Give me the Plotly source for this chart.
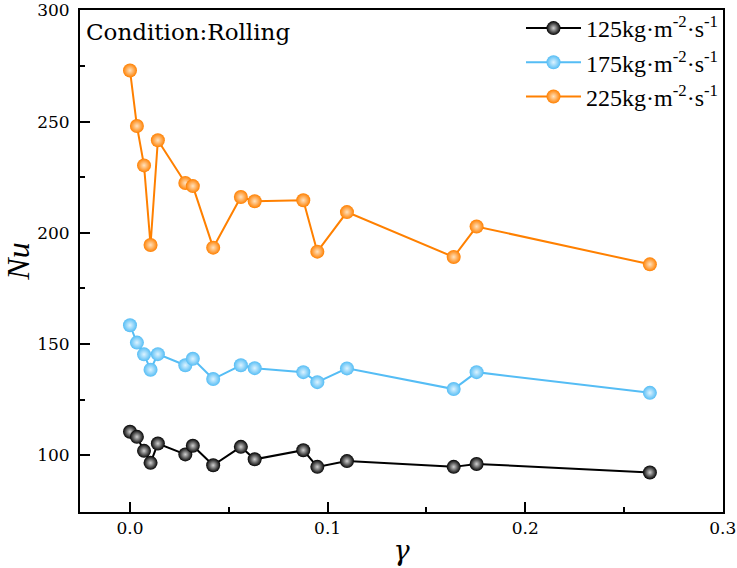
import plotly.graph_objects as go

gamma = [0.0, 0.0035, 0.0071, 0.0104, 0.0141, 0.0280, 0.0318, 0.0421,
         0.0561, 0.0631, 0.0877, 0.0948, 0.1098, 0.1638, 0.1754, 0.2631]

nu_125 = [110.5, 108.2, 101.9, 96.5, 105.2, 100.3, 104.2, 95.4,
          103.7, 98.1, 102.2, 94.7, 97.3, 94.7, 96.0, 92.2]
nu_175 = [158.4, 150.6, 145.3, 138.4, 145.4, 140.4, 143.3, 134.2,
          140.4, 139.1, 137.3, 132.8, 139.0, 129.7, 137.3, 128.0]
nu_225 = [273.0, 248.0, 230.3, 194.5, 241.6, 222.4, 221.0, 193.3,
          216.1, 214.2, 214.6, 191.5, 209.3, 189.1, 202.8, 185.8]

x_ticks = [0.0, 0.1, 0.2, 0.3]
x_tick_labels = ["0.0", "0.1", "0.2", "0.3"]
y_ticks = [100, 150, 200, 250, 300]
y_tick_labels = ["100", "150", "200", "250", "300"]

series_names = ["125kg·m<sup>-2</sup>·s<sup>-1</sup>",
                "175kg·m<sup>-2</sup>·s<sup>-1</sup>",
                "225kg·m<sup>-2</sup>·s<sup>-1</sup>"]
series_values = [nu_125, nu_175, nu_225]
line_colors = ["#000000", "#55BDF5", "#FF8000"]
center_colors = ["#D0D0D0", "#DDF3FF", "#FFE2BF"]

FONT = "Liberation Serif"
PLAIN = "DejaVu Serif"

fig = go.Figure()
for name, vals, lc, cc in zip(series_names, series_values, line_colors, center_colors):
    fig.add_trace(go.Scatter(
        x=gamma, y=vals, name=name, mode="lines+markers",
        line=dict(color=lc, width=2),
        marker=dict(size=14, color=lc, line=dict(width=0),
                    gradient=dict(type="radial", color=cc)),
    ))

fig.add_annotation(
    text="Condition:Rolling", xref="paper", yref="paper",
    x=0.006, y=0.957, xanchor="left", yanchor="middle", showarrow=False,
    font=dict(family=PLAIN, size=23, color="black"),
)

axis_common = dict(
    showline=True, linecolor="black", linewidth=2, mirror=True,
    ticks="inside", ticklen=10, tickwidth=1.5, tickcolor="black",
    showgrid=False, zeroline=False, automargin=False,
    ticklabeloverflow="allow",
)

fig.update_xaxes(
    range=[-0.0253, 0.3001], tickvals=x_ticks,
    ticktext=x_tick_labels,
    tickfont=dict(family=PLAIN, size=17, color="black"),
    minor=dict(tickvals=[0.05, 0.15, 0.25], ticks="inside", ticklen=5,
               tickwidth=1.5, tickcolor="black"),
    title=dict(text="<i>γ</i>", font=dict(family=PLAIN, size=27, color="black"),
               standoff=4),
    **axis_common,
)
fig.update_yaxes(
    range=[74.4, 300.2], tickvals=y_ticks,
    ticktext=y_tick_labels,
    tickfont=dict(family=PLAIN, size=17, color="black"),
    minor=dict(tickvals=[125, 175, 225, 275], ticks="inside", ticklen=5,
               tickwidth=1.5, tickcolor="black"),
    title=dict(text="<i>Nu</i>", font=dict(family=FONT, size=32, color="black"),
               standoff=6),
    ticklabelstandoff=5,
    **axis_common,
)

fig.update_layout(
    width=737, height=568,
    margin=dict(l=80, r=14, t=10, b=56, autoexpand=False),
    plot_bgcolor="white", paper_bgcolor="white",
    font=dict(family=FONT, color="black"),
    showlegend=True,
    legend=dict(x=1.0, y=1.008, xanchor="right", yanchor="top",
                bgcolor="rgba(0,0,0,0)", borderwidth=0,
                font=dict(family=FONT, size=24, color="black"),
                itemwidth=55),
)

fig.write_html("out.html")
